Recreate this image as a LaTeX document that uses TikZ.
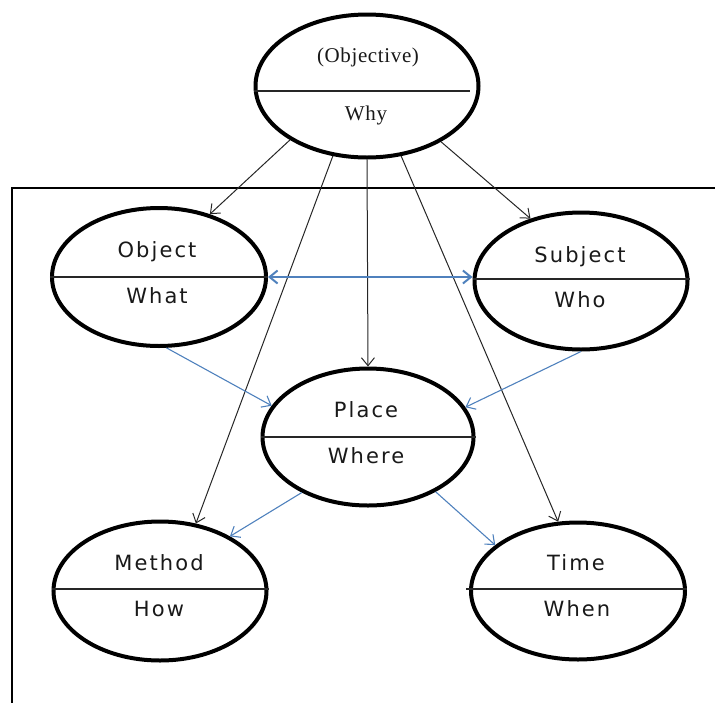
\documentclass[tikz,border=0pt]{standalone}
\usepackage{fontspec}
\setmainfont{DejaVu Sans}
\newfontfamily\serifface[LetterSpace=3]{Liberation Serif}
\newfontfamily\labelface[LetterSpace=10]{DejaVu Sans}
\usetikzlibrary{shapes.geometric,arrows.meta}
\definecolor{flowblue}{RGB}{79,129,189}

\begin{document}
\begin{tikzpicture}[x=1pt,y=-1pt,
  oval/.style={ellipse,draw,fill=white,line width=4pt,inner sep=0pt,
               minimum width=214pt,minimum height=138pt},
  lbl/.style={anchor=base,inner sep=0pt,text=black!90,
              font=\labelface\fontsize{21}{21}\selectfont},
  toplbl/.style={anchor=base,inner sep=0pt,text=black!90,
              font=\serifface\fontsize{21}{21}\selectfont},
  divider/.style={line width=1.5pt,black!85},
  link/.style={line width=1pt,black!85,-{Straight Barb[length=8pt,width=13pt]}},
  flow/.style={line width=1.1pt,flowblue,-{Straight Barb[length=8pt,width=13pt]}},
]
\useasboundingbox (0,0) rectangle (715,702);

% open frame around the lower part
\draw[line width=2.5pt] (716,188) -- (12,188) -- (12,703);

% the six ovals
\node[oval,minimum width=223pt,minimum height=143pt] (why) at (367,86) {};
\node[oval] (obj)   at (159,277) {};
\node[oval,minimum width=213pt,minimum height=137pt] (subj)  at (581,281) {};
\node[oval,minimum width=211pt,minimum height=137pt] (place) at (368,437) {};
\node[oval,minimum width=213pt,minimum height=139pt] (meth)  at (160,591) {};
\node[oval,minimum height=137pt] (time)  at (578,591) {};

% dividing lines
\draw[divider] ([yshift=-5pt]why.west) -- ([xshift=-11pt,yshift=-5pt]why.east);
\draw[divider] (obj.west) -- (obj.east);
\draw[divider] ([yshift=2pt]subj.west) -- ([yshift=2pt]subj.east);
\draw[divider] (place.west) -- (place.east);
\draw[divider] ([yshift=2pt]meth.west) -- ([yshift=2pt]meth.east);
\draw[divider] ([xshift=-3pt,yshift=2pt]time.west) -- ([yshift=2pt]time.east);

% labels
\node[toplbl] (whyA) at (368,62) {(Objective)};
\node[toplbl] (whyB) at (366,120) {Why};
\node[lbl] (objA)   at (157,257) {Object};
\node[lbl] (objB)   at (157,303) {What};
\node[lbl] (subjA)  at (580,262) {Subject};
\node[lbl] (subjB)  at (580,307) {Who};
\node[lbl] (placeA) at (366,417) {Place};
\node[lbl] (placeB) at (366,463) {Where};
\node[lbl] (methA)  at (159,570) {Method};
\node[lbl] (methB)  at (159,616) {How};
\node[lbl] (timeA)  at (576,570) {Time};
\node[lbl] (timeB)  at (577,616) {When};

% black links from the objective
\draw[link] (why.215) -- (obj.51);
\draw[link] (why.244) -- (meth.62);
\draw[link] (why.south) -- (place.north);
\draw[link] (why.296) -- (time.106);
\draw[link] (why.323) -- (subj.129);

% blue flows
\draw[flow,line width=2pt,{Straight Barb[length=8pt,width=13pt]}-{Straight Barb[length=8pt,width=13pt]}]
  (obj.east) -- (obj.east -| subj.west);
\draw[flow] (obj.276) -- (place.162);
\draw[flow] (subj.south) -- (place.17);
\draw[flow] (place.220) -- (meth.38);
\draw[flow] (place.321) -- (time.151);
\end{tikzpicture}
\end{document}
